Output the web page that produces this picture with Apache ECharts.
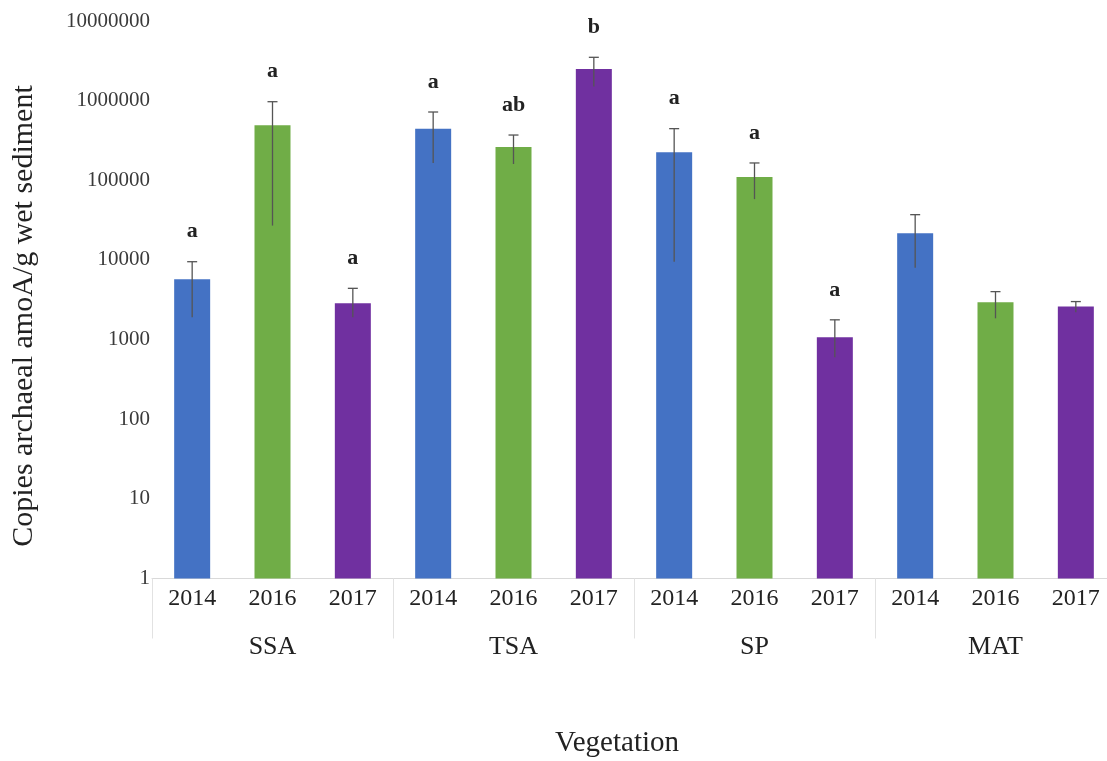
<!DOCTYPE html>
<html>
<head>
<meta charset="utf-8">
<style>
  html, body { margin: 0; padding: 0; background: #fff; overflow: hidden; }
  /* the plot runs slightly past the right edge of the window */
  #chart { width: 1120px; height: 761px; }
</style>
<script src="https://cdn.jsdelivr.net/npm/echarts@6/dist/echarts.min.js"></script>
</head>
<body>
<div id="chart"></div>
<script>
// Vegetation zones and sampling years
const groups = ['SSA', 'TSA', 'SP', 'MAT'];
const years = ['2014', '2016', '2017'];

// Mean copies per gram of wet sediment, one array per year (ordered as groups)
const mean2014 = [5700, 445000, 225000, 21700];
const mean2016 = [490000, 262000, 110000, 2950];
const mean2017 = [2850, 2500000, 1070, 2600];

// Error bar bounds (lower / upper), ordered as groups
const low2014 = [1900, 165000, 9500, 8000];
const high2014 = [9500, 720000, 445000, 37000];
const low2016 = [27000, 160000, 58000, 1850];
const high2016 = [970000, 370000, 165000, 4000];
const low2017 = [1900, 1500000, 600, 2200];
const high2017 = [4400, 3500000, 1770, 3000];

// Significance letters, ordered as groups
const letters2014 = ['a', 'a', 'a', ''];
const letters2016 = ['a', 'ab', 'a', ''];
const letters2017 = ['a', 'b', 'a', ''];

// y-axis tick values
const yTicks = [1, 10, 100, 1000, 10000, 100000, 1000000, 10000000];

const yearColors = ['#4472C4', '#70AD47', '#7030A0'];
const serif = '"Liberation Serif", "DejaVu Serif", serif';

const means = [mean2014, mean2016, mean2017];
const lows = [low2014, low2016, low2017];
const highs = [high2014, high2016, high2017];
const letters = [letters2014, letters2016, letters2017];

// Flatten into one category per (group, year)
const yearCats = [];
const barData = [];
const errData = [];
groups.forEach((g, gi) => {
  years.forEach((y, yi) => {
    const idx = yearCats.length;
    yearCats.push(y);
    barData.push({ value: means[yi][gi], itemStyle: { color: yearColors[yi] } });
    errData.push([idx, lows[yi][gi], highs[yi][gi], letters[yi][gi]]);
  });
});

const chart = echarts.init(document.getElementById('chart'));

chart.setOption({
  animation: false,
  backgroundColor: '#ffffff',
  grid: { left: 152, right: 4, top: 21, bottom: 182.5 },
  xAxis: [
    {
      type: 'category',
      data: yearCats,
      position: 'bottom',
      axisLine: { show: true, lineStyle: { color: '#d9d9d9', width: 1 } },
      axisTick: { show: false },
      axisLabel: { margin: 8, fontFamily: serif, fontSize: 24, color: '#222' },
      splitLine: { show: false }
    },
    {
      type: 'category',
      data: groups,
      position: 'bottom',
      axisLine: { show: false },
      axisTick: { show: true, length: 60, lineStyle: { color: '#e2e2e2', width: 1 } },
      axisLabel: { margin: 56, fontFamily: serif, fontSize: 26, color: '#222' },
      splitLine: { show: false }
    }
  ],
  yAxis: {
    type: 'log',
    logBase: 10,
    min: yTicks[0],
    max: yTicks[yTicks.length - 1],
    axisLine: { show: false },
    axisTick: { show: false },
    splitLine: { show: false },
    axisLabel: {
      margin: 2,
      fontFamily: serif,
      fontSize: 21,
      color: '#3a3a3a',
      formatter: v => String(Math.round(v))
    }
  },
  graphic: [
    {
      type: 'text',
      x: 24, y: 316,
      rotation: Math.PI / 2,
      style: {
        text: 'Copies archaeal amoA/g wet sediment',
        fontFamily: serif, fontSize: 30, fill: '#222',
        textAlign: 'center', textVerticalAlign: 'middle'
      }
    },
    {
      type: 'text',
      x: 617, y: 743,
      style: {
        text: 'Vegetation',
        fontFamily: serif, fontSize: 29, fill: '#222',
        textAlign: 'center', textVerticalAlign: 'middle'
      }
    }
  ],
  series: [
    {
      type: 'bar',
      xAxisIndex: 0,
      data: barData,
      barWidth: 36
    },
    {
      type: 'custom',
      xAxisIndex: 0,
      data: errData,
      encode: { x: 0, y: [1, 2] },
      z: 10,
      renderItem: (params, api) => {
        const x = api.value(0);
        const lo = api.coord([x, api.value(1)]);
        const hi = api.coord([x, api.value(2)]);
        const text = errData[params.dataIndex][3];
        const cap = 5;
        const stroke = { stroke: '#555', lineWidth: 1.3 };
        const children = [
          { type: 'line', shape: { x1: hi[0], y1: hi[1], x2: lo[0], y2: lo[1] }, style: stroke },
          { type: 'line', shape: { x1: hi[0] - cap, y1: hi[1], x2: hi[0] + cap, y2: hi[1] }, style: stroke }
        ];
        if (text) {
          children.push({
            type: 'text',
            style: {
              text: text, x: hi[0], y: hi[1] - 30,
              fontFamily: serif, fontSize: 22, fontWeight: 'bold', fill: '#222',
              textAlign: 'center', textVerticalAlign: 'middle'
            }
          });
        }
        return { type: 'group', children: children };
      }
    }
  ]
});
</script>
</body>
</html>
